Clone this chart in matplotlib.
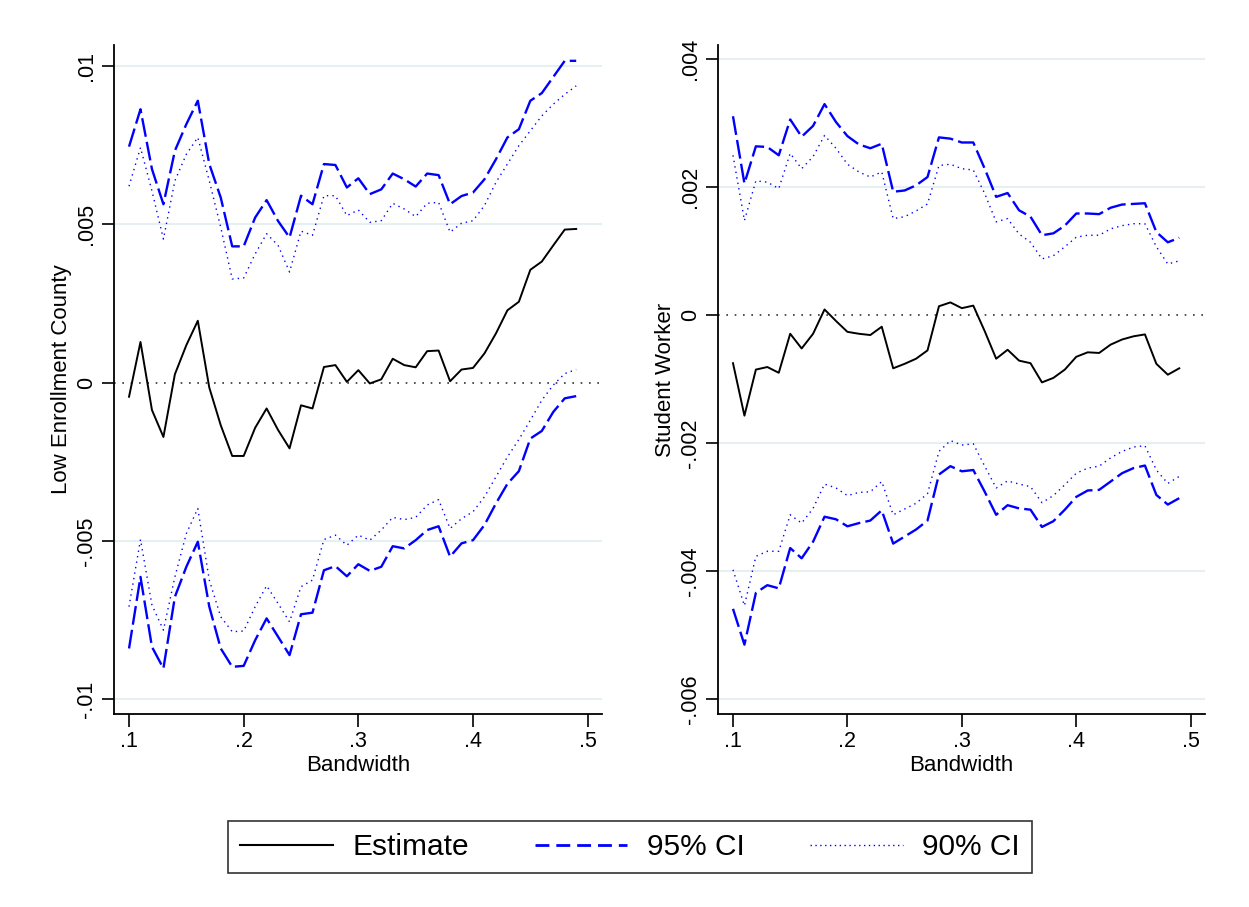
import numpy as np
import matplotlib.pyplot as plt
from matplotlib.lines import Line2D

plt.rcParams['font.family'] = ['Liberation Sans', 'DejaVu Sans']

bandwidth = np.round(np.arange(0.10, 0.495, 0.01), 2)

# left panel: low enrollment county
low_est = [-0.00045, 0.00128, -0.00087, -0.00172, 0.00026, 0.00118, 0.00195, -0.00016, -0.00135, -0.00232,
           -0.00232, -0.00143, -0.00082, -0.00150, -0.00208, -0.00072, -0.00082, 0.00049, 0.00055, 0.00002,
           0.00039, -0.00003, 0.00010, 0.00075, 0.00055, 0.00048, 0.00099, 0.00101, 0.00004, 0.00041,
           0.00046, 0.00092, 0.00155, 0.00228, 0.00255, 0.00356, 0.00382, 0.00433, 0.00483, 0.00485]
low_hi95 = [0.00745, 0.00863, 0.00674, 0.00563, 0.00732, 0.00816, 0.00890, 0.00690, 0.00584, 0.00430,
            0.00430, 0.00521, 0.00576, 0.00510, 0.00458, 0.00590, 0.00563, 0.00690, 0.00687, 0.00616,
            0.00645, 0.00595, 0.00610, 0.00660, 0.00642, 0.00619, 0.00660, 0.00655, 0.00563, 0.00589,
            0.00600, 0.00642, 0.00705, 0.00774, 0.00800, 0.00890, 0.00914, 0.00965, 0.01016, 0.01016]
low_hi90 = [0.00620, 0.00742, 0.00605, 0.00453, 0.00637, 0.00721, 0.00774, 0.00637, 0.00490, 0.00327,
            0.00330, 0.00406, 0.00470, 0.00433, 0.00349, 0.00478, 0.00465, 0.00590, 0.00590, 0.00527,
            0.00545, 0.00506, 0.00511, 0.00566, 0.00548, 0.00524, 0.00566, 0.00569, 0.00475, 0.00503,
            0.00511, 0.00559, 0.00632, 0.00690, 0.00748, 0.00795, 0.00842, 0.00879, 0.00910, 0.00937]
low_lo95 = [-0.00840, -0.00614, -0.00835, -0.00903, -0.00677, -0.00582, -0.00503, -0.00708, -0.00840, -0.00898,
            -0.00895, -0.00814, -0.00745, -0.00803, -0.00861, -0.00732, -0.00727, -0.00593, -0.00580, -0.00612,
            -0.00574, -0.00595, -0.00582, -0.00517, -0.00524, -0.00498, -0.00466, -0.00454, -0.00550, -0.00508,
            -0.00498, -0.00450, -0.00382, -0.00320, -0.00280, -0.00177, -0.00153, -0.00093, -0.00050, -0.00043]
low_lo90 = [-0.00708, -0.00496, -0.00703, -0.00782, -0.00614, -0.00477, -0.00398, -0.00624, -0.00740, -0.00787,
            -0.00785, -0.00708, -0.00642, -0.00698, -0.00756, -0.00645, -0.00624, -0.00496, -0.00482, -0.00514,
            -0.00482, -0.00498, -0.00466, -0.00426, -0.00433, -0.00426, -0.00387, -0.00370, -0.00461, -0.00430,
            -0.00408, -0.00361, -0.00298, -0.00235, -0.00180, -0.00119, -0.00056, -0.00008, 0.00028, 0.00041]

# right panel: student worker
sw_est = [-0.00075, -0.00157, -0.00085, -0.00081, -0.00090, -0.00029, -0.00052, -0.00029, 0.00009, -0.00009,
          -0.00026, -0.00029, -0.00031, -0.00018, -0.00083, -0.00076, -0.00068, -0.00055, 0.00014, 0.00020,
          0.00011, 0.00015, -0.00025, -0.00068, -0.00054, -0.00071, -0.00075, -0.00105, -0.00098, -0.00085,
          -0.00065, -0.00058, -0.00059, -0.00046, -0.00038, -0.00033, -0.00030, -0.00076, -0.00093, -0.00083]
sw_hi95 = [0.00311, 0.00206, 0.00264, 0.00263, 0.00250, 0.00306, 0.00279, 0.00296, 0.00330, 0.00302,
           0.00280, 0.00267, 0.00261, 0.00268, 0.00193, 0.00195, 0.00203, 0.00216, 0.00278, 0.00276,
           0.00270, 0.00270, 0.00229, 0.00185, 0.00191, 0.00164, 0.00154, 0.00125, 0.00128, 0.00140,
           0.00159, 0.00159, 0.00158, 0.00168, 0.00173, 0.00174, 0.00175, 0.00130, 0.00114, 0.00121]
sw_hi90 = [0.00250, 0.00148, 0.00210, 0.00208, 0.00198, 0.00253, 0.00229, 0.00248, 0.00281, 0.00261,
           0.00236, 0.00224, 0.00216, 0.00224, 0.00151, 0.00154, 0.00163, 0.00174, 0.00234, 0.00236,
           0.00229, 0.00227, 0.00190, 0.00146, 0.00151, 0.00127, 0.00114, 0.00088, 0.00093, 0.00107,
           0.00122, 0.00125, 0.00125, 0.00135, 0.00140, 0.00143, 0.00143, 0.00107, 0.00080, 0.00085]
sw_lo95 = [-0.00459, -0.00515, -0.00434, -0.00422, -0.00427, -0.00364, -0.00380, -0.00354, -0.00315, -0.00319,
           -0.00330, -0.00325, -0.00321, -0.00305, -0.00357, -0.00346, -0.00335, -0.00321, -0.00249, -0.00236,
           -0.00244, -0.00242, -0.00276, -0.00312, -0.00297, -0.00302, -0.00304, -0.00331, -0.00322, -0.00304,
           -0.00284, -0.00274, -0.00273, -0.00260, -0.00247, -0.00239, -0.00235, -0.00281, -0.00296, -0.00286]
sw_lo90 = [-0.00398, -0.00454, -0.00377, -0.00369, -0.00369, -0.00312, -0.00325, -0.00302, -0.00264, -0.00270,
           -0.00282, -0.00277, -0.00276, -0.00260, -0.00312, -0.00303, -0.00294, -0.00279, -0.00213, -0.00196,
           -0.00203, -0.00201, -0.00236, -0.00270, -0.00259, -0.00264, -0.00268, -0.00293, -0.00282, -0.00265,
           -0.00247, -0.00239, -0.00236, -0.00223, -0.00213, -0.00206, -0.00204, -0.00242, -0.00263, -0.00252]

x_ticks = [0.1, 0.2, 0.3, 0.4, 0.5]
x_labels = ['.1', '.2', '.3', '.4', '.5']
low_ticks = [0.01, 0.005, 0, -0.005, -0.01]
low_labels = ['.01', '.005', '0', '-.005', '-.01']
sw_ticks = [0.004, 0.002, 0, -0.002, -0.004, -0.006]
sw_labels = ['.004', '.002', '0', '-.002', '-.004', '-.006']

W, H = 1249, 907
fig = plt.figure(figsize=(W / 100, H / 100), dpi=100)
fig.patch.set_facecolor('white')

blue = '#0000ff'
dash = (0, (8, 2.2))
dot = (0, (1, 3))
grid_col = '#e6eff1'


def draw_panel(rect, est, hi95, hi90, lo95, lo90, yticks, ylabels, ylim, ylabel):
    ax = fig.add_axes(rect)
    for t in yticks:
        if t != 0:
            ax.axhline(t, color=grid_col, lw=1.5, zorder=0)
    ax.axhline(0, color='#333333', lw=1.2, linestyle=(0, (1, 4)), zorder=1)
    ax.plot(bandwidth, est, color='black', lw=1.4)
    ax.plot(bandwidth, hi95, color=blue, lw=1.7, linestyle=dash)
    ax.plot(bandwidth, lo95, color=blue, lw=1.7, linestyle=dash)
    ax.plot(bandwidth, hi90, color=blue, lw=1.0, linestyle=dot)
    ax.plot(bandwidth, lo90, color=blue, lw=1.0, linestyle=dot)
    ax.set_xlim(0.0869, 0.5125)
    ax.set_ylim(*ylim)
    ax.set_xticks(x_ticks)
    ax.set_xticklabels(x_labels)
    ax.set_yticks(yticks)
    ax.set_yticklabels(ylabels, rotation=90, va='center')
    ax.tick_params(direction='out', length=9, width=1.2, labelsize=15.5, colors='black')
    ax.tick_params(axis='y', pad=3)
    ax.spines['top'].set_visible(False)
    ax.spines['right'].set_visible(False)
    ax.spines['left'].set_linewidth(1.3)
    ax.spines['bottom'].set_linewidth(1.3)
    ax.set_xlabel('Bandwidth', fontsize=16, labelpad=2)
    ax.set_ylabel(ylabel, fontsize=16, labelpad=3)
    return ax


# axes rectangles in figure fractions from pixel positions
ax1 = draw_panel([114 / W, 1 - 714 / H, (602 - 114) / W, (714 - 45) / H],
                 low_est, low_hi95, low_hi90, low_lo95, low_lo90,
                 low_ticks, low_labels, (-0.01047, 0.01066), 'Low Enrollment County')
ax2 = draw_panel([718 / W, 1 - 714 / H, (1205 - 718) / W, (714 - 45) / H],
                 sw_est, sw_hi95, sw_hi90, sw_lo95, sw_lo90,
                 sw_ticks, sw_labels, (-0.006234, 0.004224), 'Student Worker')

handles = [Line2D([], [], color='black', lw=1.5),
           Line2D([], [], color=blue, lw=2, linestyle=(0, (5, 2.5))),
           Line2D([], [], color=blue, lw=1, linestyle=(0, (1, 2.5)))]
leg = fig.legend(handles, ['Estimate', '95% CI', '90% CI'], ncol=3,
                 loc='center', bbox_to_anchor=(630 / W, 1 - 847 / H),
                 fontsize=21.5, frameon=True, fancybox=False, handlelength=3.1,
                 columnspacing=2.2, handletextpad=0.65, borderpad=0.4)
leg.get_frame().set_edgecolor('black')
leg.get_frame().set_linewidth(1.2)

fig.savefig('out.png', dpi=100)
